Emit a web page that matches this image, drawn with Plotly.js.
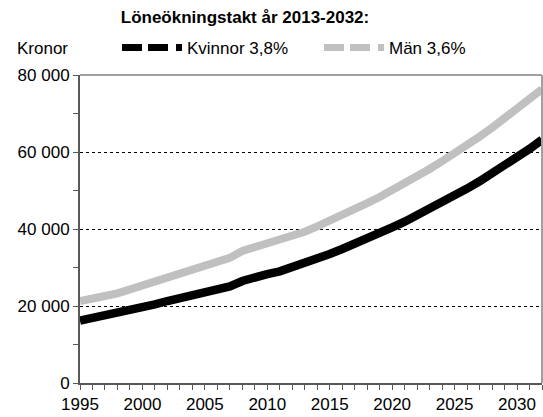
<!DOCTYPE html>
<html>
<head>
<meta charset="utf-8">
<script src="https://cdn.plot.ly/plotly-3.0.1.min.js"></script>
<style>html,body{margin:0;padding:0;background:#fff;}#chart{width:543px;height:417px;}</style>
</head>
<body>
<div id="chart"></div>
<script>
const years = [1995,1996,1997,1998,1999,2000,2001,2002,2003,2004,2005,2006,2007,2008,2009,2010,2011,2012,2013,2014,2015,2016,2017,2018,2019,2020,2021,2022,2023,2024,2025,2026,2027,2028,2029,2030,2031,2032];
const kvinnor = [16200,16900,17500,17900,18700,19400,20400,21300,22100,22900,23600,24300,25100,26500,27600,28300,29000,30000,31100,32300,33500,34800,36100,37500,38900,40400,41900,43500,45200,46900,48700,50500,52400,54400,56500,58600,60800,63200];
const man = [21300,22200,22600,23300,24300,25300,26600,27700,28600,29700,30700,31500,32500,34300,35300,36100,36900,38000,39300,40700,42100,43600,45100,46700,48300,50000,51800,53600,55600,57600,59600,61800,64000,66300,68700,71200,73700,76300];
const seriesNames = ["Kvinnor 3,8%", "Män 3,6%"];
const titleText = "Löneökningstakt år 2013-2032:";
const unitText = "Kronor";

const FONT = "Liberation Sans, Arial, sans-serif";
const legendDash = "20px,6px,20px,8px,6px,20px";
const traces = [
  {x: years, y: man, type: "scatter", mode: "lines", line: {color: "#C0C0C0", width: 8}, showlegend: false, hoverinfo: "skip"},
  {x: years, y: kvinnor, type: "scatter", mode: "lines", line: {color: "#000000", width: 8.5}, showlegend: false, hoverinfo: "skip"},
  {x: [null], y: [null], type: "scatter", mode: "lines", name: seriesNames[0], line: {color: "#000000", width: 7, dash: legendDash}},
  {x: [null], y: [null], type: "scatter", mode: "lines", name: seriesNames[1], line: {color: "#C0C0C0", width: 7, dash: legendDash}}
];
const layout = {
  width: 543, height: 417,
  margin: {l: 80, r: 1, t: 75, b: 34},
  paper_bgcolor: "#fff", plot_bgcolor: "#fff",
  separators: ", ",
  font: {family: FONT, size: 17, color: "#000"},
  title: {text: "<b>" + titleText + "</b>", font: {family: FONT, size: 17, color: "#000"}, x: 245/543, xanchor: "center", xref: "container", y: 1 - 17/417, yanchor: "middle", yref: "container"},
  showlegend: true,
  legend: {orientation: "h", x: (117-80)/462, xanchor: "left", y: 1.0877, yanchor: "middle", font: {family: FONT, size: 17, color: "#000"}, itemwidth: 60, entrywidth: 127, bgcolor: "rgba(0,0,0,0)", traceorder: "normal"},
  xaxis: {
    range: [1995, 2032], dtick: 5, tick0: 1995, tickmode: "linear",
    showgrid: false, zeroline: false,
    showline: true, linecolor: "#595959", linewidth: 2,
    ticks: "outside", ticklen: 5, tickcolor: "#595959", tickwidth: 1,
    minor: {dtick: 1, tick0: 1995, ticks: "outside", ticklen: 5, tickcolor: "#595959", tickwidth: 1, showgrid: false},
    tickfont: {family: FONT, size: 17, color: "#000"}, fixedrange: true
  },
  yaxis: {
    range: [0, 80000], dtick: 20000, tick0: 0, tickmode: "linear", tickformat: ",d",
    showgrid: true, gridcolor: "#000", griddash: "dot", gridwidth: 1,
    zeroline: false,
    showline: true, linecolor: "#595959", linewidth: 2,
    ticks: "outside", ticklen: 5, tickcolor: "#595959", tickwidth: 1,
    minor: {dtick: 10000, tick0: 0, ticks: "outside", ticklen: 5, tickcolor: "#595959", tickwidth: 1, showgrid: false},
    tickfont: {family: FONT, size: 17, color: "#000"}, fixedrange: true
  },
  shapes: [
    {type: "line", xref: "paper", yref: "paper", x0: 0, x1: 1, y0: 1, y1: 1, line: {color: "#A0A0A0", width: 2}, layer: "above"},
    {type: "line", xref: "paper", yref: "paper", x0: 1, x1: 1, y0: 0, y1: 1, line: {color: "#A0A0A0", width: 2}, layer: "above"}
  ],
  annotations: [
    {text: unitText, xref: "paper", yref: "paper", x: (15-80)/462, y: (383-48)/308, xanchor: "left", yanchor: "middle", showarrow: false, font: {family: FONT, size: 17, color: "#000"}}
  ]
};
Plotly.newPlot("chart", traces, layout, {displayModeBar: false, staticPlot: true});
</script>
</body>
</html>
